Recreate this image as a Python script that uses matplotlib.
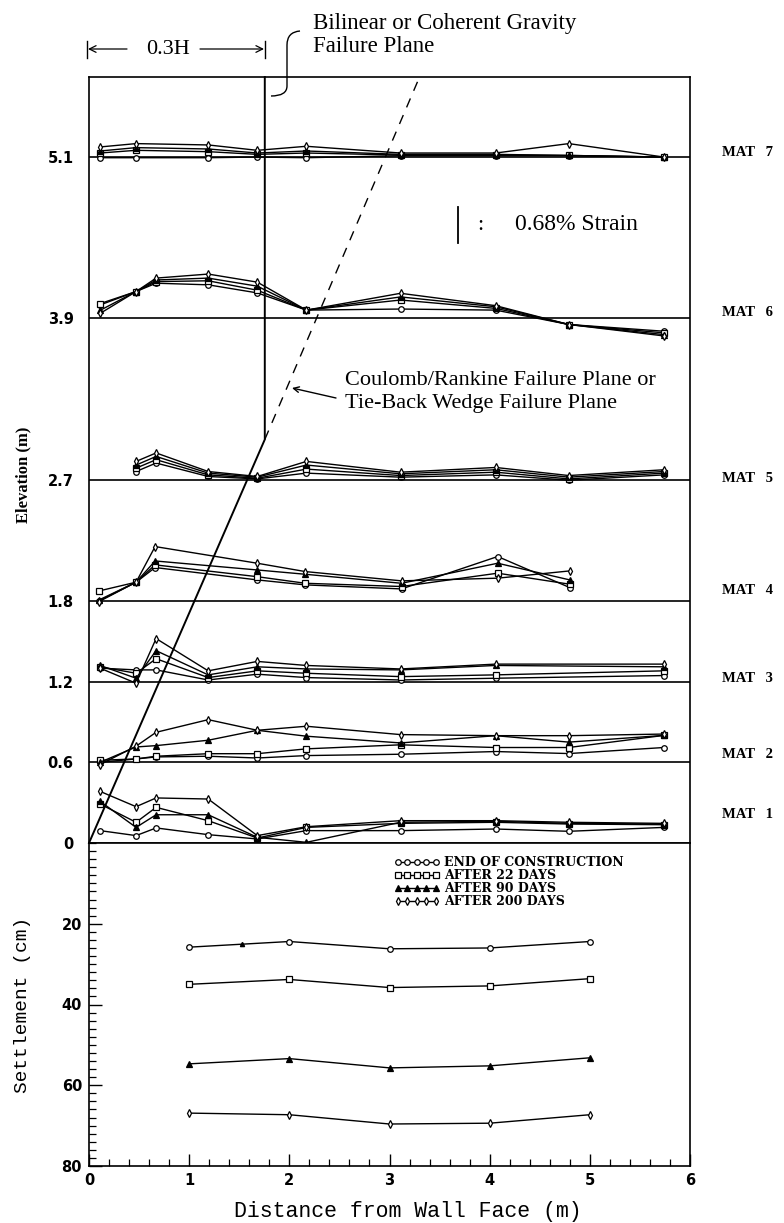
import numpy as np
import matplotlib
matplotlib.use('Agg')
import matplotlib.pyplot as plt
from matplotlib.path import Path
from matplotlib.patches import PathPatch

# mat elevations (m) and their labels
mat_names = ['MAT   1', 'MAT   2', 'MAT   3', 'MAT   4', 'MAT   5', 'MAT   6', 'MAT   7']
mat_elev = [0.0, 0.6, 1.2, 1.8, 2.7, 3.9, 5.1]
elev_labels = ['0', '0.6', '1.2', '1.8', '2.7', '3.9', '5.1']

series_names = ['END OF CONSTRUCTION', 'AFTER 22 DAYS', 'AFTER 90 DAYS', 'AFTER 200 DAYS']

# gauge positions (m from wall face) and plotted strain offsets (m above mat line)
# rows: end of construction, 22 days, 90 days, 200 days
mat1_x = [0.11, 0.47, 0.67, 1.19, 1.68, 2.17, 3.11, 4.06, 4.79, 5.74]
mat1_y = [[0.092, 0.055, 0.112, 0.062, 0.030, 0.092, 0.092, 0.104, 0.087, 0.116],
          [0.290, 0.154, 0.265, 0.166, 0.037, 0.116, 0.146, 0.154, 0.141, 0.136],
          [0.310, 0.116, 0.210, 0.210, 0.042, 0.005, 0.154, 0.161, 0.146, 0.141],
          [0.384, 0.270, 0.335, 0.327, 0.055, 0.121, 0.166, 0.166, 0.154, 0.146]]

mat2_x = [0.11, 0.47, 0.67, 1.19, 1.68, 2.17, 3.11, 4.06, 4.79, 5.74]
mat2_y = [[0.000, 0.025, 0.040, 0.045, 0.032, 0.050, 0.060, 0.080, 0.065, 0.110],
          [0.015, 0.025, 0.045, 0.064, 0.064, 0.100, 0.130, 0.110, 0.110, 0.200],
          [0.000, 0.114, 0.124, 0.164, 0.238, 0.194, 0.144, 0.198, 0.150, 0.200],
          [-0.017, 0.120, 0.223, 0.317, 0.238, 0.268, 0.206, 0.198, 0.198, 0.210]]

mat3_x = [0.11, 0.47, 0.67, 1.19, 1.68, 2.17, 3.11, 4.06, 5.74]
mat3_y = [[0.100, 0.087, 0.087, 0.012, 0.055, 0.030, 0.012, 0.025, 0.045],
          [0.110, 0.062, 0.170, 0.030, 0.080, 0.062, 0.037, 0.050, 0.080],
          [0.120, 0.025, 0.230, 0.050, 0.110, 0.094, 0.087, 0.120, 0.110],
          [0.100, -0.012, 0.320, 0.080, 0.150, 0.120, 0.094, 0.130, 0.130]]

mat4_x = [0.10, 0.47, 0.66, 1.68, 2.16, 3.12, 4.08, 4.80]
mat4_y = [[0.000, 0.139, 0.248, 0.156, 0.119, 0.089, 0.330, 0.099],
          [0.074, 0.139, 0.268, 0.180, 0.131, 0.107, 0.206, 0.124],
          [0.007, 0.139, 0.297, 0.230, 0.198, 0.131, 0.280, 0.156],
          [-0.005, 0.139, 0.404, 0.280, 0.218, 0.149, 0.169, 0.223]]

mat5_x = [0.47, 0.67, 1.19, 1.68, 2.17, 3.11, 4.06, 4.79, 5.74]
mat5_y = [[0.062, 0.125, 0.025, 0.007, 0.050, 0.020, 0.037, -0.003, 0.037],
          [0.087, 0.150, 0.037, 0.012, 0.080, 0.032, 0.057, 0.007, 0.050],
          [0.110, 0.174, 0.050, 0.020, 0.110, 0.045, 0.075, 0.020, 0.062],
          [0.137, 0.200, 0.062, 0.025, 0.137, 0.057, 0.092, 0.032, 0.075]]

mat6_x = [0.11, 0.47, 0.67, 1.19, 1.68, 2.17, 3.11, 4.06, 4.79, 5.74]
mat6_y = [[0.100, 0.200, 0.262, 0.250, 0.190, 0.062, 0.070, 0.062, -0.045, -0.095],
          [0.110, 0.200, 0.274, 0.280, 0.210, 0.062, 0.137, 0.075, -0.045, -0.107],
          [0.060, 0.200, 0.286, 0.300, 0.240, 0.062, 0.160, 0.087, -0.045, -0.120],
          [0.037, 0.200, 0.300, 0.330, 0.270, 0.062, 0.187, 0.095, -0.045, -0.130]]

mat7_x = [0.11, 0.47, 1.19, 1.68, 2.17, 3.11, 4.06, 4.79, 5.74]
mat7_y = [[-0.005, -0.005, -0.005, 0.000, -0.005, 0.010, 0.010, 0.010, 0.000],
          [0.030, 0.050, 0.040, 0.020, 0.030, 0.015, 0.015, 0.012, 0.000],
          [0.045, 0.070, 0.060, 0.030, 0.045, 0.020, 0.020, 0.012, 0.000],
          [0.075, 0.100, 0.090, 0.050, 0.080, 0.030, 0.030, 0.100, 0.000]]

mats_x = [mat1_x, mat2_x, mat3_x, mat4_x, mat5_x, mat6_x, mat7_x]
mats_y = [mat1_y, mat2_y, mat3_y, mat4_y, mat5_y, mat6_y, mat7_y]

# settlement (cm)
sett_x = [1, 2, 3, 4, 5]
sett_eoc = [25.8, 24.4, 26.2, 26.0, 24.4]
sett_d22 = [35.0, 33.8, 35.8, 35.4, 33.6]
sett_d90 = [54.7, 53.4, 55.7, 55.2, 53.2]
sett_d200 = [66.9, 67.3, 69.6, 69.4, 67.3]
stray_x = [1.53]
stray_y = [25.1]

# failure planes
wall_h = 5.85
bilinear_x = 0.3 * wall_h
kink_y = 3.0
coulomb_top_x = 3.3

styles = [dict(marker='o', mfc='white'),
          dict(marker='s', mfc='white'),
          dict(marker='^', mfc='black'),
          dict(marker='d', mfc='white')]

SERIF = 'Liberation Serif'
MONO = 'Liberation Mono'
W, Hpx = 784, 1223


def fx(px):
    return px / W


def fy(py):
    return 1 - py / Hpx


fig = plt.figure(figsize=(7.84, 12.23), dpi=100)
ax = fig.add_axes([fx(89), fy(843), (690 - 89) / W, (843 - 77) / Hpx])
ax2 = fig.add_axes([fx(89), fy(1166), (690 - 89) / W, (1166 - 843) / Hpx])

# --- elevation panel ---
top = (843 - 77) / 134.5
ax.set_xlim(0, 6)
ax.set_ylim(0, top)
for e in mat_elev[1:]:
    ax.axhline(e, color='black', lw=1.2)

for base, xs, rows in zip(mat_elev, mats_x, mats_y):
    for row, st in zip(rows, styles):
        ax.plot(xs, base + np.array(row), color='black', lw=1.0, ms=4,
                mec='black', mew=0.9, **st)

# failure planes
ax.plot([0, bilinear_x, bilinear_x], [0, kink_y, top], color='black', lw=1.4,
        clip_on=False)
ax.plot([bilinear_x, coulomb_top_x], [kink_y, top], color='black', lw=1.0,
        dashes=(7, 6))

ax.set_xticks([])
ax.set_yticks(mat_elev)
ax.set_yticklabels(elev_labels, fontsize=10.5, fontweight='bold')
ax.tick_params(axis='y', length=0, pad=11)
for s in ax.spines.values():
    s.set_linewidth(1.2)

for name, py in zip(mat_names, [815, 755, 678, 590, 478, 312, 153]):
    fig.text(fx(722), fy(py), name, family=SERIF, fontweight='bold',
             fontsize=10.5, ha='left', va='center')

fig.text(fx(23), fy(475), 'Elevation (m)', rotation=90, family=SERIF,
         fontweight='bold', fontsize=12, ha='center', va='center')

# annotations
fig.text(fx(313), fy(35), 'Bilinear or Coherent Gravity\nFailure Plane',
         family=SERIF, fontsize=16.5, ha='left', va='center', linespacing=1.15)
fig.text(fx(168), fy(49), '0.3H', family=SERIF, fontsize=16,
         ha='center', va='center')
for x0, x1 in [(127, 88), (200, 264)]:
    ax.annotate('', xy=(fx(x1), fy(49)), xytext=(fx(x0), fy(49)),
                xycoords='figure fraction', textcoords='figure fraction',
                arrowprops=dict(arrowstyle='->', color='black', lw=0.9,
                                mutation_scale=12, shrinkA=0, shrinkB=0))
for xb in (87, 265):
    fig.add_artist(plt.Line2D([fx(xb), fx(xb)], [fy(41), fy(58)], color='black', lw=1.0))

hook = Path([(fx(300), fy(31)), (fx(287), fy(32)), (fx(287), fy(45)),
             (fx(287), fy(86)),
             (fx(287), fy(96)), (fx(271), fy(96))],
            [Path.MOVETO, Path.CURVE3, Path.CURVE3, Path.LINETO, Path.CURVE3, Path.CURVE3])
fig.add_artist(PathPatch(hook, transform=fig.transFigure, fill=False,
                         lw=1.0, edgecolor='black'))

fig.add_artist(plt.Line2D([fx(458), fx(458)], [fy(207), fy(243)], color='black', lw=1.3))
fig.text(fx(480), fy(225), ':', family=SERIF, fontsize=16, ha='center', va='center')
fig.text(fx(515), fy(225), '0.68% Strain', family=SERIF, fontsize=17,
         ha='left', va='center')

fig.text(fx(345), fy(392), 'Coulomb/Rankine Failure Plane or\nTie-Back Wedge Failure Plane',
         family=SERIF, fontsize=16, ha='left', va='center', linespacing=1.25)
ax.annotate('', xy=(fx(292), fy(388)), xytext=(fx(336), fy(398)),
            xycoords='figure fraction', textcoords='figure fraction',
            arrowprops=dict(arrowstyle='->', color='black', lw=1.0,
                            shrinkA=0, shrinkB=0))

# --- settlement panel ---
handles = []
for vals, st, name in zip([sett_eoc, sett_d22, sett_d90, sett_d200], styles, series_names):
    h, = ax2.plot(sett_x, vals, color='black', lw=1.0, ms=4, mec='black',
                  mew=0.9, label=name, **st)
    handles.append(h)
ax2.plot(stray_x, stray_y, '^', color='black', ms=3)

ax2.set_xlim(0, 6)
ax2.set_ylim(80, 0)
ax2.set_xticks(range(7))
ax2.set_xticks(np.arange(0, 6.01, 0.2), minor=True)
ax2.set_yticks([20, 40, 60, 80])
ax2.set_yticks(np.arange(0, 80.1, 2), minor=True)
ax2.tick_params(which='major', direction='in', length=9, width=1.0,
                labelsize=10.5, pad=5)
ax2.tick_params(which='minor', direction='in', length=5, width=0.9)
for lab in ax2.get_xticklabels() + ax2.get_yticklabels():
    lab.set_fontweight('bold')
for s in ax2.spines.values():
    s.set_linewidth(1.2)

leg = ax2.legend(handles=handles, loc='upper left', bbox_to_anchor=(0.508, 0.96),
                 frameon=False, numpoints=5, handlelength=3.6, handletextpad=0.4,
                 labelspacing=0.0, borderpad=0, borderaxespad=0,
                 prop=dict(family='DejaVu Serif', weight='bold', size=9))

fig.text(fx(23), fy(1005), 'Settlement (cm)', rotation=90, family=MONO,
         fontsize=14, ha='center', va='center')
fig.text(fx(408), fy(1211), 'Distance from Wall Face (m)', family=MONO,
         fontsize=15.5, ha='center', va='center')

fig.savefig('out.png', dpi=100)
